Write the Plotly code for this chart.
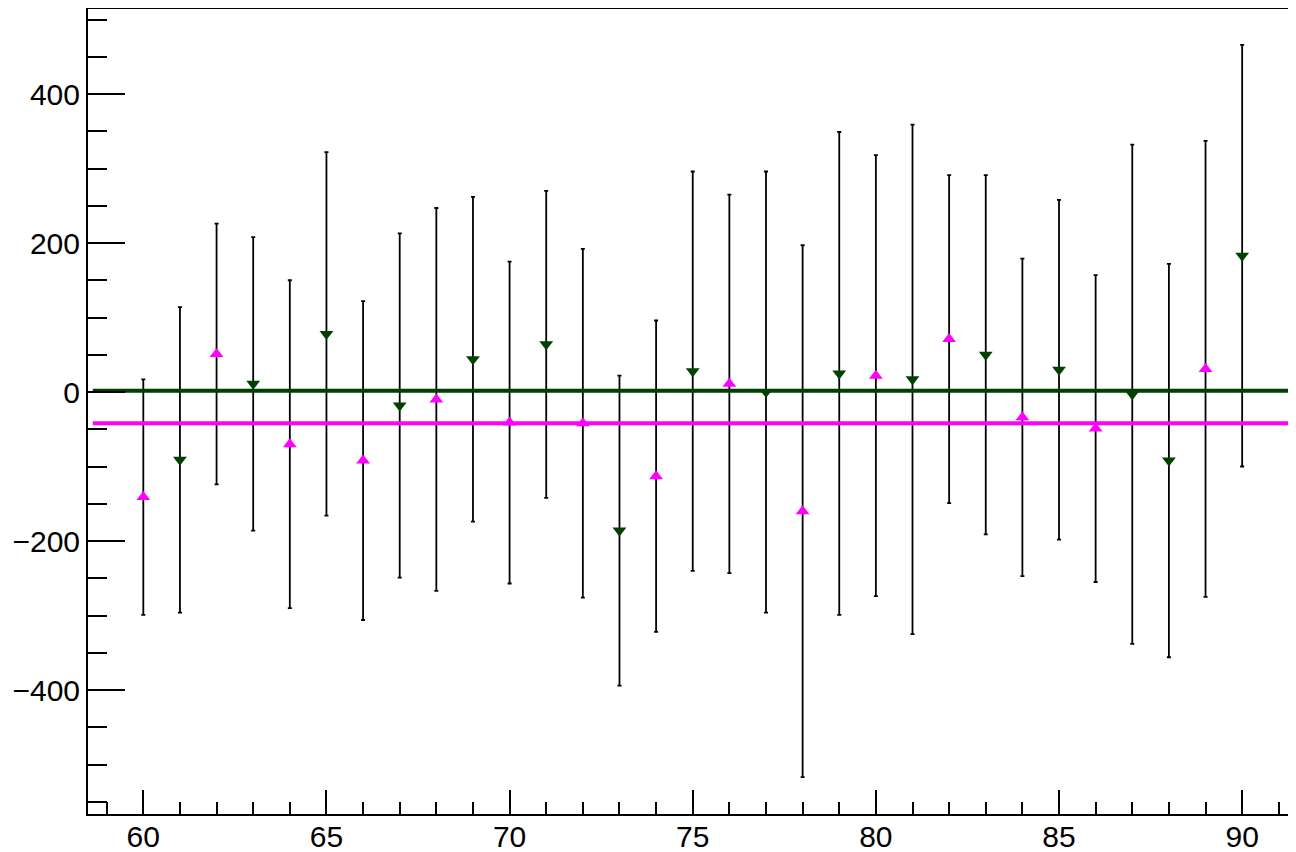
import plotly.graph_objects as go

# Magenta series (up triangles)
mag_x = [60, 62, 64, 66, 68, 70, 72, 74, 76, 78, 80, 82, 84, 86, 89]
mag_y = [-141, 51, -70, -92, -10, -41, -42, -113, 11, -160, 22, 71, -34, -49, 31]
mag_err = [158, 175, 220, 214, 257, 216, 234, 209, 254, 357, 296, 220, 213, 206, 306]

# Dark green series (down triangles)
grn_x = [61, 63, 65, 67, 69, 71, 73, 75, 77, 79, 81, 83, 85, 87, 88, 90]
grn_y = [-91, 11, 78, -18, 44, 64, -186, 28, 0, 25, 17, 50, 30, -3, -92, 183]
grn_err = [205, 197, 244, 231, 218, 206, 208, 268, 296, 324, 342, 241, 228, 335, 264, 283]

# Horizontal constant lines (fit levels)
line_x = [58.62, 91.38]
grn_level = [1.7, 1.7]
mag_level = [-42, -42]

MAG = "#ff00ff"
GRN = "#004000"

fig = go.Figure()

# error bars first (under lines)
for xs, ys, es in [(mag_x, mag_y, mag_err), (grn_x, grn_y, grn_err)]:
    fig.add_trace(go.Scatter(
        x=xs, y=ys, mode="markers",
        marker=dict(size=1, opacity=0, color="black"),
        error_y=dict(type="data", array=es, visible=True, color="black",
                     thickness=1.8, width=2),
        showlegend=False, hoverinfo="skip"))

fig.add_trace(go.Scatter(x=line_x, y=grn_level, mode="lines",
                         line=dict(color=GRN, width=4), showlegend=False))
fig.add_trace(go.Scatter(x=line_x, y=mag_level, mode="lines",
                         line=dict(color=MAG, width=4), showlegend=False))

fig.add_trace(go.Scatter(x=mag_x, y=mag_y, mode="markers",
                         marker=dict(symbol="triangle-up", size=12, color=MAG),
                         showlegend=False))
fig.add_trace(go.Scatter(x=grn_x, y=grn_y, mode="markers",
                         marker=dict(symbol="triangle-down", size=12, color=GRN),
                         showlegend=False))

font = dict(family="Liberation Sans, Arial, sans-serif", size=30, color="black")

# page body has an 8px default margin, so the figure is sized to fit the window
fig.update_layout(
    width=1288, height=844,
    margin=dict(l=80, r=0, t=1, b=38),
    paper_bgcolor="white", plot_bgcolor="white",
    font=font,
    xaxis=dict(range=[58.49, 91.47], showgrid=False, zeroline=False,
               automargin=False,
               showline=True, linecolor="black", linewidth=2, mirror=True,
               ticks="inside", ticklen=24, tickwidth=2, tickcolor="black",
               tick0=60, dtick=5, tickfont=font, ticklabelstandoff=-5,
               minor=dict(ticks="inside", ticklen=12, tickwidth=2,
                          tickcolor="black", dtick=1, tick0=60, showgrid=False)),
    yaxis=dict(range=[-566.4, 514.1], showgrid=False, zeroline=False,
               automargin=False,
               showline=True, linecolor="black", linewidth=2, mirror=False,
               ticks="inside", ticklen=37, tickwidth=2, tickcolor="black",
               tick0=0, dtick=200, tickfont=font,
               minor=dict(ticks="inside", ticklen=19, tickwidth=2,
                          tickcolor="black", dtick=50, tick0=0, showgrid=False)),
)

fig.write_html("out.html")
